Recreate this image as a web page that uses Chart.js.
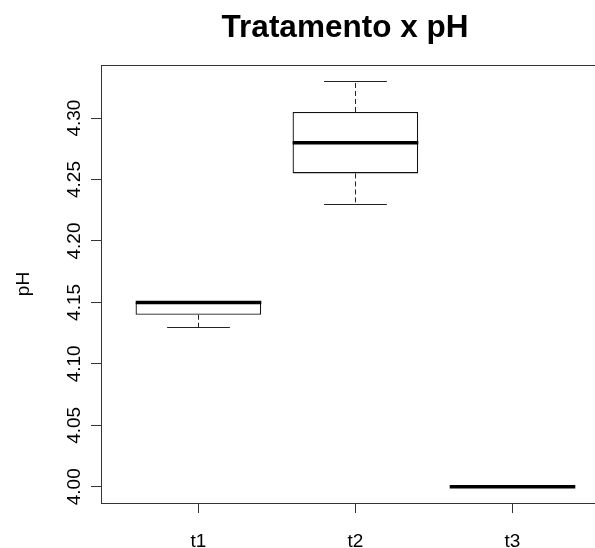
<!DOCTYPE html>
<html><head><meta charset="utf-8">
<style>html,body{margin:0;padding:0;background:#fff}#wrap{width:595px;height:548px}</style>
<script src="https://cdn.jsdelivr.net/npm/chart.js@4"></script>
</head><body><div id="wrap"><canvas id="c" width="595" height="548"></canvas></div>
<script>
const titleText = 'Tratamento x pH';
const yAxisLabel = 'pH';
const categories = ['t1', 't2', 't3'];
const whiskerLow = [4.13, 4.23, 4.00];
const quartile1 = [4.14, 4.255, 4.00];
const medians = [4.15, 4.28, 4.00];
const quartile3 = [4.15, 4.305, 4.00];
const whiskerHigh = [4.15, 4.33, 4.00];
const yTicks = [4.00, 4.05, 4.10, 4.15, 4.20, 4.25, 4.30];

const FONT = "'Liberation Sans', Arial, sans-serif";
const positions = categories.map((c, i) => i + 1);
const LINE = '#333';

const boxPlugin = {
  id: 'boxDecor',
  afterDatasetsDraw(chart) {
    const ctx = chart.ctx, xs = chart.scales.x, ys = chart.scales.y;
    const meta = chart.getDatasetMeta(0);
    const a = chart.chartArea;
    const cr = v => Math.round(v) + 0.5;
    ctx.save();
    categories.forEach((c, i) => {
      const bar = meta.data[i];
      const cx = cr(xs.getPixelForValue(positions[i]));
      const hw = bar.width / 2;
      const yq1 = ys.getPixelForValue(quartile1[i]);
      const yq3 = ys.getPixelForValue(quartile3[i]);
      const ylo = ys.getPixelForValue(whiskerLow[i]);
      const yhi = ys.getPixelForValue(whiskerHigh[i]);
      const ymed = ys.getPixelForValue(medians[i]);
      ctx.strokeStyle = '#222'; ctx.lineWidth = 1;
      ctx.setLineDash([5, 3]);
      ctx.beginPath();
      if (yhi < yq3) { ctx.moveTo(cx, yq3); ctx.lineTo(cx, cr(yhi)); }
      if (ylo > yq1) { ctx.moveTo(cx, yq1); ctx.lineTo(cx, cr(ylo)); }
      ctx.stroke();
      ctx.setLineDash([]);
      ctx.beginPath();
      ctx.moveTo(cx - hw / 2, cr(yhi)); ctx.lineTo(cx + hw / 2, cr(yhi));
      ctx.moveTo(cx - hw / 2, cr(ylo)); ctx.lineTo(cx + hw / 2, cr(ylo));
      ctx.stroke();
      ctx.strokeStyle = '#000'; ctx.lineWidth = 3.5;
      ctx.beginPath();
      ctx.moveTo(cx - hw, ymed); ctx.lineTo(cx + hw, ymed);
      ctx.stroke();
    });
    ctx.strokeStyle = LINE; ctx.lineWidth = 1;
    ctx.beginPath();
    ctx.moveTo(a.left, cr(a.top)); ctx.lineTo(a.right, cr(a.top));
    ctx.stroke();
    ctx.restore();
  },
  afterDraw(chart) {
    const ctx = chart.ctx;
    ctx.save();
    ctx.fillStyle = '#000';
    ctx.font = `bold 31.5px ${FONT}`;
    ctx.textAlign = 'center';
    ctx.textBaseline = 'alphabetic';
    ctx.fillText(titleText, 345, 36.5);
    ctx.restore();
  }
};

new Chart(document.getElementById('c'), {
  type: 'bar',
  data: {
    datasets: [{
      data: positions.map((p, i) => ({ x: p, y: [quartile1[i], quartile3[i]] })),
      backgroundColor: '#fff',
      borderColor: '#111',
      borderWidth: 1.3,
      borderSkipped: false,
      barPercentage: 0.8,
      categoryPercentage: 1
    }]
  },
  plugins: [boxPlugin],
  options: {
    responsive: false,
    devicePixelRatio: 1,
    animation: false,
    layout: { padding: { top: 65, left: 0, right: 0, bottom: 0 } },
    plugins: { legend: { display: false }, tooltip: { enabled: false }, title: { display: false } },
    scales: {
      x: {
        type: 'linear', min: 0.38, max: 3.526, offset: false,
        afterBuildTicks: s => { s.ticks = positions.map(v => ({ value: v })); },
        ticks: {
          callback: v => { const k = positions.indexOf(v); return k >= 0 ? categories[k] : ''; },
          font: { family: FONT, size: 19 }, color: '#000', padding: 17,
          maxRotation: 0, minRotation: 0, autoSkip: false
        },
        grid: { display: true, offset: false, drawOnChartArea: false, drawTicks: true, tickLength: 10, tickColor: LINE },
        border: { display: true, color: LINE, width: 1 },
        afterFit: s => { s.height = 45; }
      },
      y: {
        type: 'linear', min: 3.9868, max: 4.3432,
        afterBuildTicks: s => { s.ticks = yTicks.map(v => ({ value: v })); },
        ticks: {
          callback: v => Number(v).toFixed(2),
          font: { family: FONT, size: 19 }, color: '#000', padding: -2,
          minRotation: 90, maxRotation: 90, crossAlign: 'center', autoSkip: false
        },
        grid: { display: true, drawOnChartArea: false, drawTicks: true, tickLength: 10, tickColor: LINE },
        border: { display: true, color: LINE, width: 1 },
        title: { display: true, text: yAxisLabel, font: { family: FONT, size: 19 }, color: '#000', padding: { top: 12.6, bottom: 0 } },
        afterFit: s => { s.width = 101; }
      }
    }
  }
});
</script>
</body></html>
